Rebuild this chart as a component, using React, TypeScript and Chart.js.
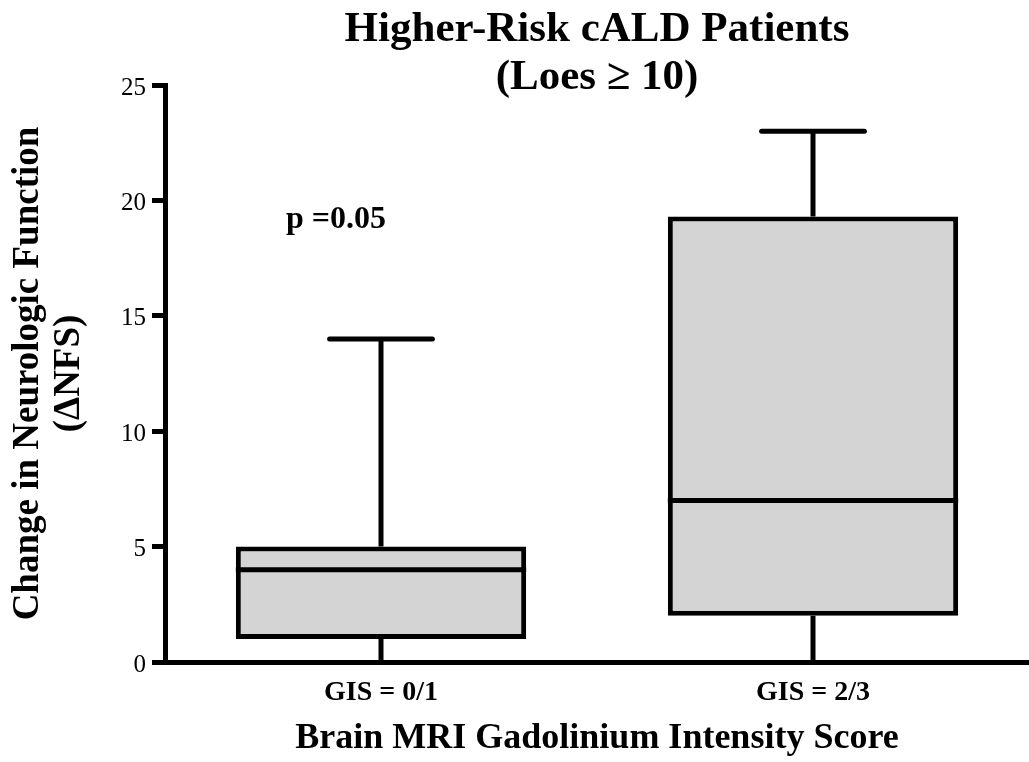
import React, { useEffect, useRef } from "react";
import { Chart, registerables } from "chart.js";

Chart.register(...registerables);

const categories = ["GIS = 0/1", "GIS = 2/3"];
const minValues = [0, 0];
const q1Values = [1, 2];
const medianValues = [4, 7];
const q3Values = [5, 19.3];
const maxValues = [14, 23];
const yTicks = [0, 5, 10, 15, 20, 25];

const titleLines = ["Higher-Risk cALD Patients", "(Loes \u2265 10)"];
const yTitleLines = ["Change in Neurologic Function", "(\u0394NFS)"];
const xTitle = "Brain MRI Gadolinium Intensity Score";
const pValueText = "p =0.05";
const pValueY = 18.8;

const FONT = "'Liberation Serif', 'Times New Roman', serif";
const LW = 5;

const boxPlugin = {
  id: "boxWhisker",
  beforeDatasetsDraw(chart: any) {
    const { ctx, scales } = chart;
    const xs = scales.x;
    const ys = scales.y;
    const meta = chart.getDatasetMeta(0);
    ctx.save();
    ctx.strokeStyle = "#000";
    ctx.lineWidth = LW;
    categories.forEach((_, i) => {
      const bar = meta.data[i];
      const x = xs.getPixelForValue(i);
      const capHalf = bar.width * 0.177;
      ctx.lineCap = "butt";
      ctx.beginPath();
      ctx.moveTo(x, ys.getPixelForValue(q3Values[i]));
      ctx.lineTo(x, ys.getPixelForValue(maxValues[i]));
      ctx.moveTo(x, ys.getPixelForValue(q1Values[i]));
      ctx.lineTo(x, ys.getPixelForValue(minValues[i]));
      ctx.stroke();
      ctx.lineCap = "round";
      ctx.beginPath();
      ctx.moveTo(x - capHalf, ys.getPixelForValue(maxValues[i]));
      ctx.lineTo(x + capHalf, ys.getPixelForValue(maxValues[i]));
      ctx.stroke();
    });
    ctx.restore();
  },
  afterDatasetsDraw(chart: any) {
    const { ctx, scales } = chart;
    const ys = scales.y;
    const meta = chart.getDatasetMeta(0);
    ctx.save();
    ctx.strokeStyle = "#000";
    ctx.lineWidth = LW;
    ctx.lineCap = "butt";
    categories.forEach((_, i) => {
      const bar = meta.data[i];
      const y = ys.getPixelForValue(medianValues[i]);
      ctx.beginPath();
      ctx.moveTo(bar.x - bar.width / 2, y);
      ctx.lineTo(bar.x + bar.width / 2, y);
      ctx.stroke();
    });
    ctx.restore();
  },
  afterDraw(chart: any) {
    const { ctx, chartArea, scales } = chart;
    const cx = (chartArea.left + chartArea.right) / 2;
    ctx.save();
    ctx.fillStyle = "#000";
    ctx.textAlign = "center";
    ctx.textBaseline = "alphabetic";
    ctx.font = `bold 43px ${FONT}`;
    ctx.fillText(titleLines[0], cx, 41);
    ctx.fillText(titleLines[1], cx, 89);
    ctx.font = `bold 32px ${FONT}`;
    ctx.fillText(pValueText, scales.x.getPixelForValue(0) - 45, scales.y.getPixelForValue(pValueY));
    ctx.restore();
  },
};

export default function App() {
  const ref = useRef<HTMLCanvasElement>(null);
  useEffect(() => {
    if (!ref.current) return;
    const chart = new Chart(ref.current, {
      type: "bar",
      data: {
        labels: categories,
        datasets: [
          {
            data: categories.map((_, i) => [q1Values[i], q3Values[i]]) as any,
            backgroundColor: "#d4d4d4",
            borderColor: "#000",
            borderWidth: LW,
            borderSkipped: false,
            categoryPercentage: 1,
            barPercentage: 0.672,
          },
        ],
      },
      options: {
        responsive: false,
        animation: false,
        layout: { padding: { top: 85, left: 0, right: 0, bottom: 0 } },
        plugins: {
          legend: { display: false },
          tooltip: { enabled: false },
          title: { display: false },
        },
        scales: {
          x: {
            type: "category",
            offset: true,
            grid: { display: false },
            border: { display: true, color: "#000", width: LW },
            ticks: {
              color: "#000",
              padding: 6,
              font: { family: FONT, size: 28, weight: "bold" },
            },
            title: {
              display: true,
              text: xTitle,
              color: "#000",
              font: { family: FONT, size: 36, weight: "bold" },
              padding: { top: 0, bottom: 2 },
            },
            afterFit: (scale: any) => {
              scale.height = 100;
            },
          },
          y: {
            min: 0,
            max: 25,
            afterBuildTicks: (scale: any) => {
              scale.ticks = yTicks.map((v) => ({ value: v }));
            },
            grid: {
              display: true,
              drawOnChartArea: false,
              drawTicks: true,
              tickLength: 13,
              tickWidth: LW,
              tickColor: "#000",
              color: "#000",
            },
            border: { display: true, color: "#000", width: LW },
            ticks: {
              color: "#000",
              padding: 6,
              labelOffset: 3,
              font: { family: FONT, size: 25 },
            },
            title: {
              display: true,
              text: yTitleLines,
              color: "#000",
              font: { family: FONT, size: 37, weight: "bold", lineHeight: 1.1 },
              padding: { top: 8, bottom: 0 },
            },
            afterFit: (scale: any) => {
              scale.width = 165;
            },
          },
        },
      },
      plugins: [boxPlugin],
    });
    return () => chart.destroy();
  }, []);
  return (
    <div style={{ position: "absolute", left: 0, top: 0, width: 1029, height: 762, background: "#fff" }}>
      <canvas ref={ref} width={1029} height={762} style={{ display: "block" }} />
    </div>
  );
}
